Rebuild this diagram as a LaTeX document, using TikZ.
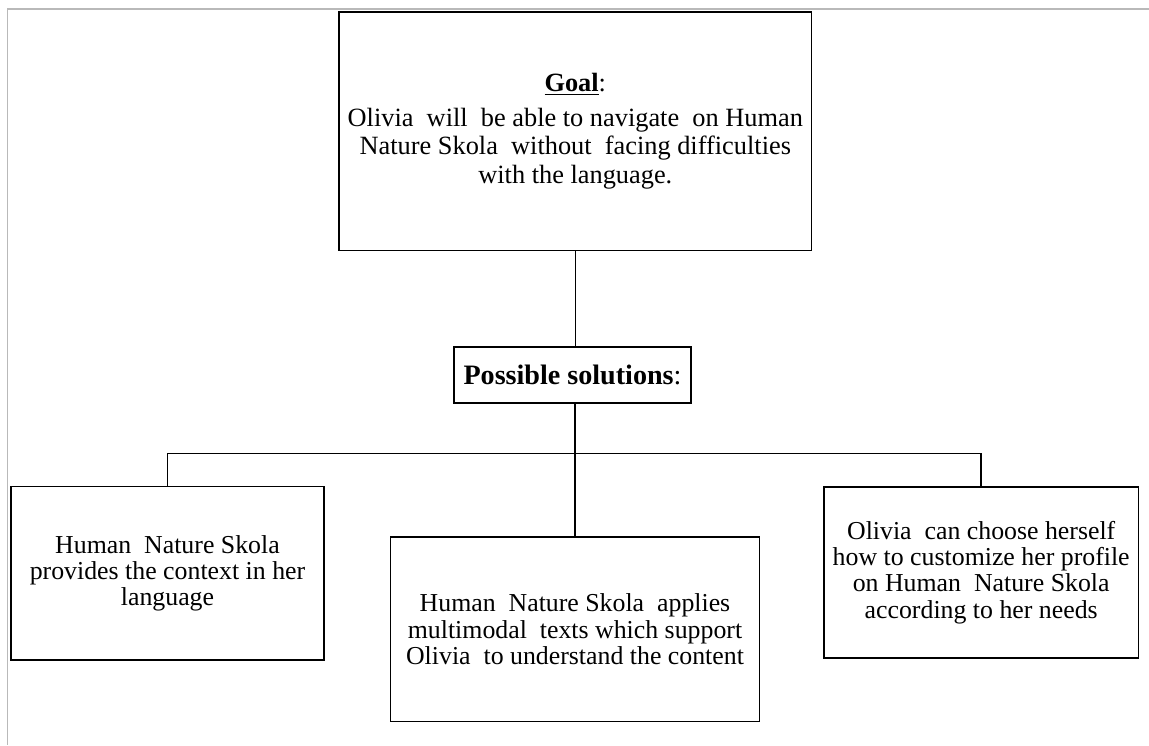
\documentclass[tikz,border=0pt]{standalone}
\usepackage{fontspec}
\setmainfont{Liberation Serif}

\begin{document}
\begin{tikzpicture}[x=0.02cm, y=-0.02cm,
	box/.style={draw, line width=0.9pt, align=center, inner sep=2pt, font=\fontsize{14.7}{15}\selectfont},
	link/.style={line width=0.9pt}]
	\useasboundingbox (0,0) rectangle (1149,745);
	\draw[gray!55, line width=0.6pt] (1149,9) -- (7.3,9) -- (7.3,745);
	\node[box, minimum width=9.45cm, minimum height=4.77cm, font=\fontsize{15}{16.2}\selectfont] (goal) at (575.3,131.3) {\textbf{\underline{Goal}}:\\[3.5pt] Olivia~ will~ be able to navigate~ on Human\\ Nature Skola~ without~ facing difficulties\\ with the language.};
	\node[box, minimum width=4.73cm, minimum height=1.11cm, font=\fontsize{16}{17}\selectfont] (sol) at (572.5,375) {\textbf{Possible solutions}:};
	\node[box, minimum width=6.27cm, minimum height=3.47cm] (left) at (167.5,573.3) {Human~ Nature Skola\\ provides the context in her\\ language};
	\node[box, minimum width=7.38cm, minimum height=3.7cm] (mid) at (575,629.2) {Human~ Nature Skola~ applies\\ multimodal~ texts which support\\ Olivia~ to understand the content};
	\node[box, minimum width=6.29cm, minimum height=3.43cm] (right) at (981.2,572.5) {Olivia~ can choose herself\\ how to customize her profile\\ on Human~ Nature Skola\\ according to her needs};
	\coordinate (bar) at (575,453.3);
	\draw[link] (goal.south) -- (goal.south |- sol.north);
	\draw[link] (sol.south -| mid.north) -- (mid.north);
	\draw[link] (left.north) |- (bar) -| (right.north);
\end{tikzpicture}
\end{document}
